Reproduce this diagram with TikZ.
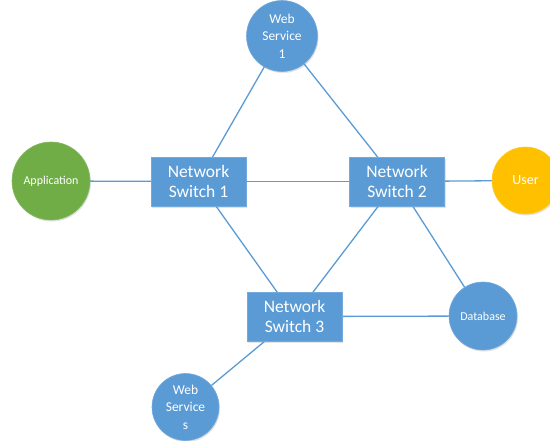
\documentclass[tikz,border=0pt]{standalone}
\usepackage{fontspec}
\setmainfont{Carlito}
\usetikzlibrary{shadows,backgrounds}
\definecolor{nodeblue}{HTML}{5B9BD5}
\definecolor{appgreen}{HTML}{70AD47}
\definecolor{usergold}{HTML}{FFC000}
\tikzset{
  soft/.style={drop shadow={opacity=0.22, shadow xshift=1pt, shadow yshift=-1.5pt}},
  switchbox/.style={rectangle, fill=nodeblue, draw=nodeblue!85!white, line width=0.6pt,
    minimum width=95pt, minimum height=49pt, inner sep=0pt, soft, text=white,
    font=\fontsize{17.5}{20}\selectfont, align=center},
  endpoint/.style={circle, fill=nodeblue, draw=nodeblue!85!white, line width=0.6pt,
    inner sep=0pt, soft, text=white, align=center},
  link/.style={draw=nodeblue, line width=1.3pt}
}
\begin{document}
\begin{tikzpicture}[x=1pt, y=-1pt]
\useasboundingbox (0,0) rectangle (550,440);
\clip (0,0) rectangle (550,440);
% nodes
\node[endpoint, minimum size=71pt, font=\fontsize{13.5}{17.5}\selectfont] (ws1) at (282,36) {Web\\Service\\1};
\node[endpoint, fill=appgreen, draw=appgreen!85!white, minimum size=78pt, font=\fontsize{12}{14}\selectfont] (app) at (51,181) {Application};
\node[switchbox] (sw1) at (198.5,181.5) {Network\\Switch 1};
\node[switchbox] (sw2) at (397,181.5) {Network\\Switch 2};
\node[endpoint, fill=usergold, draw=usergold!85!white, minimum size=67pt, font=\fontsize{14}{16}\selectfont] (user) at (525.5,180.5) {User};
\node[switchbox] (sw3) at (294.5,316.5) {Network\\Switch 3};
\node[endpoint, minimum size=68pt, font=\fontsize{12}{14}\selectfont] (db) at (483,316) {Database};
\node[endpoint, minimum size=67pt, font=\fontsize{13.5}{17.5}\selectfont] (ws2) at (185.5,407) {Web\\Service\\s};
% connectors, drawn behind the nodes
\begin{scope}[on background layer]
  \draw[link] (ws1.center) -- (sw1.center);
  \draw[link] (ws1.center) -- (sw2.center);
  \draw[link] (app.center) -- (sw1.center);
  \draw[link] (sw1.center) -- (sw2.center);
  \draw[link] (sw2.center) -- (user.center);
  \draw[link] (sw1.center) -- (sw3.center);
  \draw[link] (sw2.center) -- (sw3.center);
  \draw[link] (sw2.center) -- (db.center);
  \draw[link] (sw3.center) -- (db.center);
  \draw[link] (sw3.center) -- (ws2.center);
\end{scope}
\end{tikzpicture}
\end{document}
